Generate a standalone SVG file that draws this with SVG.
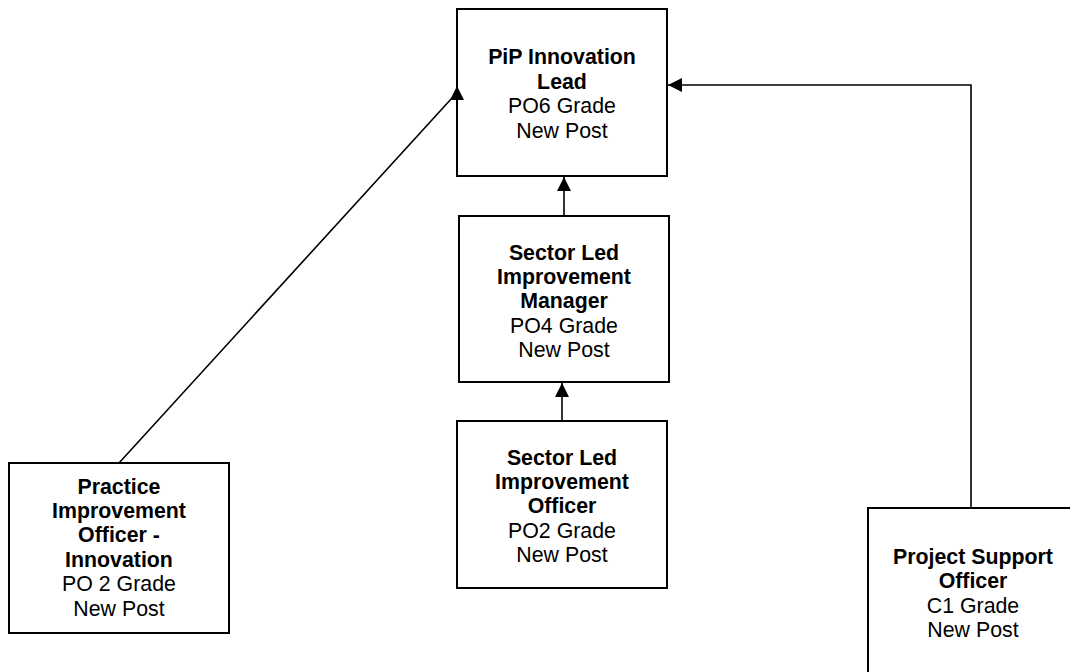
<svg xmlns="http://www.w3.org/2000/svg" width="1070" height="672" viewBox="0 0 1070 672">
  <style>
    .box { fill: #ffffff; stroke: #000000; stroke-width: 2; }
    .link { fill: none; stroke: #000000; stroke-width: 1.6; }
    text { font-family: "Liberation Sans", Arial, sans-serif; font-size: 21.33px; fill: #000000; text-anchor: middle; }
    .b { font-weight: bold; }
  </style>
  <defs>
    <marker id="arrow" markerUnits="userSpaceOnUse" markerWidth="14" markerHeight="14" refX="14" refY="7" orient="auto">
      <path d="M0,0 L14,7 L0,14 Z" fill="#000000"/>
    </marker>
  </defs>
  <rect width="1070" height="672" fill="#ffffff"/>

  <g id="pip-innovation-lead">
    <rect class="box" x="457" y="9" width="210" height="167"/>
    <text x="562" y="64" class="b">PiP Innovation</text>
    <text x="562" y="88.5" class="b">Lead</text>
    <text x="562" y="113">PO6 Grade</text>
    <text x="562" y="137.5">New Post</text>
  </g>

  <g id="sector-led-improvement-manager">
    <rect class="box" x="459" y="216" width="210" height="166"/>
    <text x="564" y="259.5" class="b">Sector Led</text>
    <text x="564" y="284" class="b">Improvement</text>
    <text x="564" y="308" class="b">Manager</text>
    <text x="564" y="332.5">PO4 Grade</text>
    <text x="564" y="356.5">New Post</text>
  </g>

  <g id="sector-led-improvement-officer">
    <rect class="box" x="457" y="421" width="210" height="167"/>
    <text x="562" y="464.5" class="b">Sector Led</text>
    <text x="562" y="488.5" class="b">Improvement</text>
    <text x="562" y="513" class="b">Officer</text>
    <text x="562" y="537.5">PO2 Grade</text>
    <text x="562" y="561.5">New Post</text>
  </g>

  <g id="practice-improvement-officer">
    <rect class="box" x="9" y="463" width="220" height="170"/>
    <text x="119" y="493.5" class="b">Practice</text>
    <text x="119" y="517.5" class="b">Improvement</text>
    <text x="119" y="542" class="b">Officer -</text>
    <text x="119" y="566.5" class="b">Innovation</text>
    <text x="119" y="591">PO 2 Grade</text>
    <text x="119" y="615.5">New Post</text>
  </g>

  <g id="project-support-officer">
    <rect class="box" x="868" y="508" width="210" height="168"/>
    <text x="973" y="563.5" class="b">Project Support</text>
    <text x="973" y="588" class="b">Officer</text>
    <text x="973" y="612.5">C1 Grade</text>
    <text x="973" y="636.5">New Post</text>
  </g>

  <!-- reporting lines, drawn over the boxes so the arrowheads stay visible -->
  <g id="connectors">
    <path class="link" d="M119,463 L452,98 M457,100 L457,86" marker-end="url(#arrow)"/>
    <path class="link" d="M564,216 L564,177" marker-end="url(#arrow)"/>
    <path class="link" d="M562,421 L562,383" marker-end="url(#arrow)"/>
    <path class="link" d="M971,508 L971,85 L668,85" marker-end="url(#arrow)"/>
  </g>
</svg>
